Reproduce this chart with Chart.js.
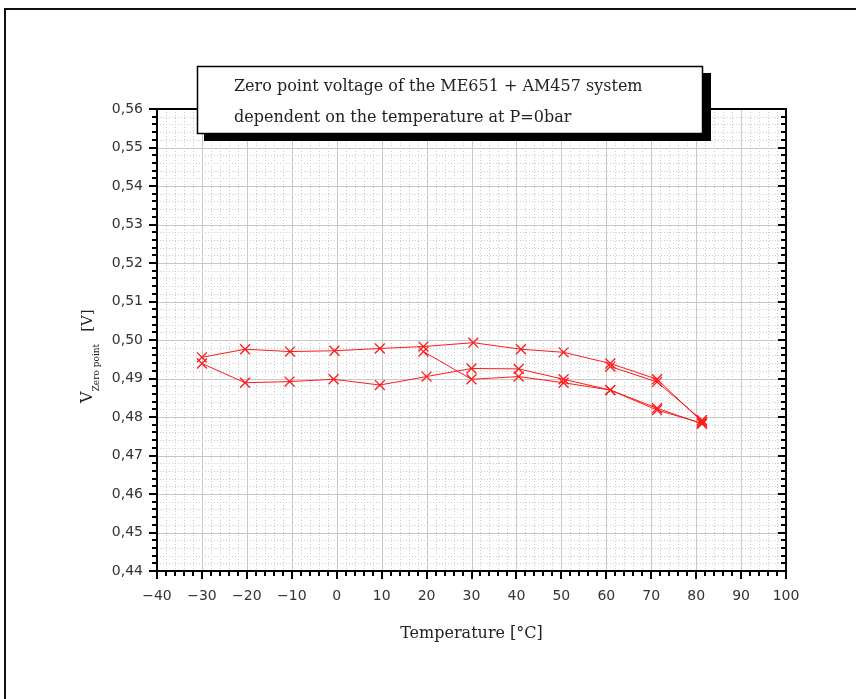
<!DOCTYPE html>
<html>
<head>
<meta charset="utf-8">
<script src="https://cdn.jsdelivr.net/npm/chart.js@4"></script>
<style>
	html, body { margin: 0; padding: 0; background: #fff; }
	#wrap { width: 856px; height: 699px; }
</style>
</head>
<body>
<div id="wrap"><canvas id="chart"></canvas></div>
<script>
// upper branch of the loop
const tempsUp = [-30, -20.4, -10.4, -0.5, 9.6, 19.3, 30.4, 41, 50.5, 60.9, 71.3, 81.3];
const voltsUp = [0.4955, 0.4976, 0.4970, 0.4972, 0.4978, 0.4983, 0.4993, 0.4976, 0.4968, 0.4939, 0.4898, 0.4788];

// lower branch
const tempsLow = [-30, -20.4, -10.5, -0.7, 9.6, 20, 30, 40.5, 50.5, 60.9, 71.3, 81.3];
const voltsLow = [0.4939, 0.4889, 0.4892, 0.4898, 0.4883, 0.4905, 0.4926, 0.4925, 0.4898, 0.4870, 0.4823, 0.4782];

// crossing run from 20 degC
const tempsCross = [19.3, 30, 40.5, 50.5, 60.9, 71.3, 81.3];
const voltsCross = [0.4970, 0.4898, 0.4905, 0.4889, 0.4870, 0.4818, 0.4784];

// second run at the hot end
const tempsHot = [60.9, 71.3, 81.3];
const voltsHot = [0.4931, 0.4891, 0.4792];

const titleLines = ['Zero point voltage of the ME651 + AM457 system', 'dependent on the temperature at P=0bar'];

const pts = (xs, ys) => xs.map((x, i) => ({ x: x, y: ys[i] }));

const red = '#ff1a1a';
const series = (xs, ys) => ({
	data: pts(xs, ys),
	showLine: true,
	borderColor: red,
	borderWidth: 1,
	pointStyle: 'crossRot',
	pointRadius: 7,
	pointBorderWidth: 1.3,
	pointBorderColor: red,
	backgroundColor: red
});

const frame = {
	id: 'frame',
	beforeDraw(chart) {
		const c = chart.ctx;
		c.save();
		c.fillStyle = '#fff';
		c.fillRect(0, 0, chart.width, chart.height);
		c.strokeStyle = '#111';
		c.lineWidth = 2;
		c.beginPath();
		c.moveTo(5, chart.height);
		c.lineTo(5, 9);
		c.lineTo(chart.width, 9);
		c.stroke();
		c.restore();
	},
	beforeDatasetsDraw(chart) {
		const c = chart.ctx;
		const a = chart.chartArea;
		const xs = chart.scales.x, ys = chart.scales.y;
		c.save();
		c.lineWidth = 1;
		// minor grid, dotted
		c.strokeStyle = '#cccccc';
		c.setLineDash([1, 2]);
		c.beginPath();
		for (let v = -40; v <= 100; v += 2) {
			if (v % 10 === 0) continue;
			const px = Math.round(xs.getPixelForValue(v)) + 0.5;
			c.moveTo(px, a.top); c.lineTo(px, a.bottom);
		}
		for (let k = 0; k <= 60; k++) {
			if (k % 5 === 0) continue;
			const py = Math.round(ys.getPixelForValue(0.44 + k * 0.002)) + 0.5;
			c.moveTo(a.left, py); c.lineTo(a.right, py);
		}
		c.stroke();
		// major grid
		c.setLineDash([]);
		c.strokeStyle = '#c8c8c8';
		c.beginPath();
		for (let v = -30; v < 100; v += 10) {
			const px = Math.round(xs.getPixelForValue(v)) + 0.5;
			c.moveTo(px, a.top); c.lineTo(px, a.bottom);
		}
		for (let k = 1; k < 12; k++) {
			const py = Math.round(ys.getPixelForValue(0.44 + k * 0.01)) + 0.5;
			c.moveTo(a.left, py); c.lineTo(a.right, py);
		}
		c.stroke();
		c.restore();
	},
	afterDatasetsDraw(chart) {
		const c = chart.ctx;
		const a = chart.chartArea;
		const xs = chart.scales.x, ys = chart.scales.y;
		c.save();
		c.strokeStyle = '#000';
		c.lineWidth = 2;
		c.strokeRect(a.left, a.top, a.right - a.left, a.bottom - a.top);
		c.beginPath();
		for (let v = -40; v <= 100; v += 2) {
			const px = Math.round(xs.getPixelForValue(v));
			const len = v % 10 === 0 ? 8 : 5;
			c.moveTo(px, a.bottom); c.lineTo(px, a.bottom + len);
		}
		for (let k = 0; k <= 60; k++) {
			const py = Math.round(ys.getPixelForValue(0.44 + k * 0.002));
			const len = k % 5 === 0 ? 8 : 5;
			c.moveTo(a.left, py); c.lineTo(a.left - len, py);
			c.moveTo(a.right, py); c.lineTo(a.right - len, py);
		}
		c.stroke();
		c.restore();
	},
	afterDraw(chart) {
		const c = chart.ctx;
		const a = chart.chartArea;
		c.save();
		// title box with shadow
		c.fillStyle = '#000';
		c.fillRect(204, 73, 507, 68);
		c.fillStyle = '#fff';
		c.fillRect(197, 66, 506, 68);
		c.strokeStyle = '#000';
		c.lineWidth = 1.5;
		c.strokeRect(197.5, 66.5, 505, 67);
		c.fillStyle = '#222';
		c.font = '16px "DejaVu Serif"';
		c.textAlign = 'left';
		c.textBaseline = 'alphabetic';
		c.fillText(titleLines[0], 234, 91);
		c.fillText(titleLines[1], 234, 122);

		// x axis title
		c.font = '16px "DejaVu Serif"';
		c.textAlign = 'center';
		c.fillText('Temperature [°C]', (a.left + a.right) / 2, 638);

		// y axis title, rotated, with subscript
		c.translate(92, 403);
		c.rotate(-Math.PI / 2);
		c.textAlign = 'left';
		c.font = '16px "DejaVu Serif"';
		c.fillText('V', 0, 0);
		let w = c.measureText('V').width;
		c.font = '9px "DejaVu Serif"';
		c.fillText('Zero point', w, 7);
		w += c.measureText('Zero point').width + 12;
		c.font = '15px "DejaVu Serif"';
		c.fillText('[V]', w, 0);
		c.restore();
	}
};

new Chart(document.getElementById('chart'), {
	type: 'scatter',
	data: {
		datasets: [
			series(tempsUp, voltsUp),
			series(tempsLow, voltsLow),
			series(tempsCross, voltsCross),
			series(tempsHot, voltsHot)
		]
	},
	options: {
		responsive: true,
		maintainAspectRatio: false,
		animation: false,
		layout: {
			padding: { top: 109, right: 70, bottom: 0, left: 0 }
		},
		plugins: {
			legend: { display: false },
			tooltip: { enabled: false }
		},
		scales: {
			x: {
				type: 'linear',
				min: -40,
				max: 100,
				afterFit(s) { s.height = 128; },
				grid: { display: false, drawTicks: false },
				border: { display: false },
				ticks: {
					stepSize: 10,
					padding: 17,
					color: '#333',
					font: { family: 'DejaVu Sans', size: 14 },
					callback: v => v < 0 ? '\u2212' + Math.abs(v) : String(v)
				}
			},
			y: {
				type: 'linear',
				min: 0.44,
				max: 0.56,
				afterFit(s) { s.width = 157; },
				grid: { display: false, drawTicks: false },
				border: { display: false },
				ticks: {
					stepSize: 0.01,
					padding: 14,
					color: '#333',
					font: { family: 'DejaVu Sans', size: 14 },
					callback: v => v.toFixed(2).replace('.', ',')
				}
			}
		}
	},
	plugins: [frame]
});
</script>
</body>
</html>
